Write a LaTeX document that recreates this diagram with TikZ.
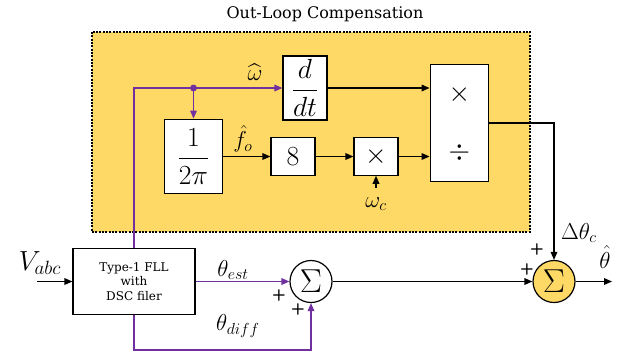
\documentclass[tikz,border=0pt]{standalone}
\usepackage{amsmath}
\usepackage{fontspec}
\setmainfont{DejaVu Serif}
\usetikzlibrary{arrows.meta}
\definecolor{compfill}{HTML}{FFD966}
\definecolor{sigpurple}{HTML}{7030A0}

\begin{document}
\begin{tikzpicture}[x=0.75pt,y=-0.75pt,
  blk/.style={draw,fill=white,line width=0.9pt,inner sep=0pt,align=center},
  sumnode/.style={draw,circle,line width=0.9pt,minimum size=31.5pt,inner sep=0pt,font=\Huge},
  sig/.style={line width=0.9pt,-{Triangle[length=6pt,width=5pt]}},
  lbl/.style={font=\LARGE},
  pls/.style={font=\sffamily\bfseries\large}]
  \useasboundingbox (0,0) rectangle (629,355);
  % compensation area
  \fill[compfill] (92,32) rectangle (530,232);
  \draw[line width=0.8pt,dash pattern=on 1.5pt off 1pt] (92,32) rectangle (530,232);
  \node[font=\large] (title) at (325,14) {Out-Loop Compensation};

  \node[blk,font=\huge,minimum width=33pt,minimum height=48pt] (ddt) at (305,88) {$\displaystyle\frac{d}{dt}$};
  \node[blk,font=\huge,minimum width=44pt,minimum height=56pt] (frac) at (193.5,156.5) {$\displaystyle\frac{1}{2\pi}$};
  \node[blk,font=\huge,minimum width=33pt,minimum height=28pt] (eight) at (293,156.5) {$8$};
  \node[blk,font=\huge,minimum width=33pt,minimum height=28pt] (mul) at (376,156.5) {$\times$};
  \node[blk,minimum width=44pt,minimum height=88pt] (big) at (459.5,123) {};
  \node[font=\huge] (bigmul) at (459.5,95) {$\times$};
  \node[font=\huge] (bigdiv) at (459.5,153) {$\div$};

  \node[blk,font=\small,minimum width=91.5pt,minimum height=49pt] (fll) at (134,281.5) {Type-1 FLL\\with\\DSC filer};
  \node[sumnode] (sum1) at (311,281.5) {$\Sigma$};
  \node[sumnode,fill=compfill] (sum2) at (554,281.5) {$\Sigma$};

  % signal paths
  \coordinate (tap) at (frac.north |- ddt.west);
  \draw[sig,sigpurple] (fll.north) |- (ddt.west);
  \fill[sigpurple] (tap) circle (2.6pt);
  \draw[sig,sigpurple] (tap) -- (frac.north);
  \draw[sig] (frac.east) -- (eight.west);
  \draw[sig] (eight) -- (mul);
  \draw[sig] (mul.east) -- (mul.east -| big.west);
  \draw[sig] (ddt.east) -- (ddt.east -| big.west);
  \coordinate (wc) at (376,188);
  \draw[sig] (wc) -- (mul.south);
  \draw[sig] (big.east) -| (sum2.north);
  \draw[sig] (sum1.east) -- (sum2.west);
  \coordinate (out) at (612,281.5);
  \draw[sig] (sum2.east) -- (out);
  \coordinate (vin) at (37,281.5);
  \draw[sig] (vin) -- (fll.west);
  \draw[sig,sigpurple] (fll.east) -- (sum1.west);
  \draw[sig,sigpurple] (fll.south) -- (fll.south |- 0,350) -| (sum1.south);

  % labels
  \node[lbl] (omg) at (255,72) {$\widehat{\omega}$};
  \node[lbl] (fo) at (243,139) {$\hat{f}_o$};
  \node[lbl] (omgc) at (376,204) {$\omega_c$};
  \node[lbl] (dth) at (579,233) {$\Delta\theta_c$};
  \node[lbl] (thhat) at (605,257) {$\hat{\theta}$};
  \node[lbl] (thest) at (233,270) {$\theta_{est}$};
  \node[lbl] (thdiff) at (238,326) {$\theta_{diff}$};
  \node[font=\huge] (vabc) at (40,263) {$V_{abc}$};
  \node[pls] at (279,295) {+};
  \node[pls] at (298,309) {+};
  \node[pls] at (537,249) {+};
  \node[pls] at (527,269) {+};
\end{tikzpicture}
\end{document}
